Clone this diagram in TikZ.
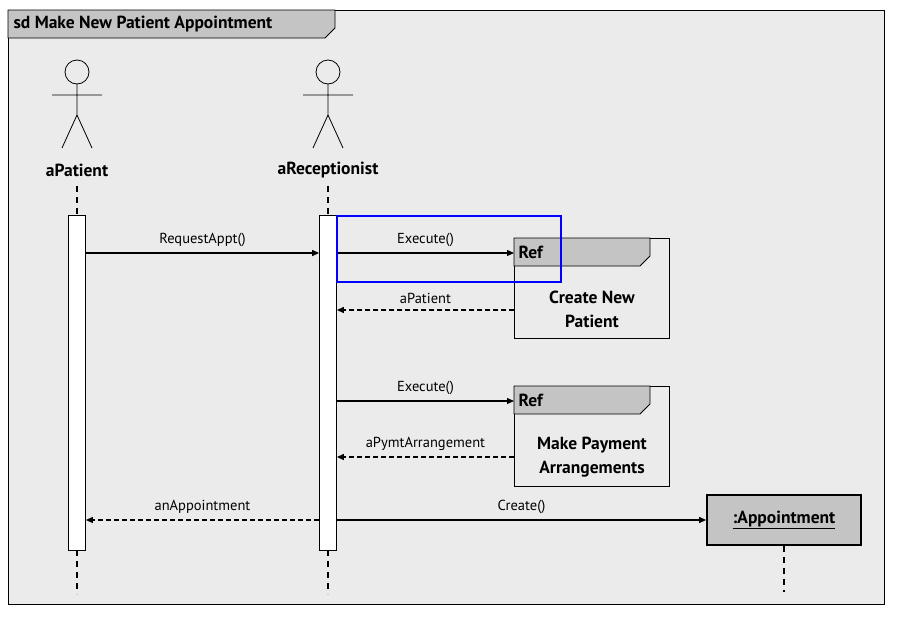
\documentclass[tikz,border=0pt]{standalone}
\usepackage{fontspec}
\setmainfont{PT Sans}
\usetikzlibrary{positioning,calc,arrows.meta}
\tikzset{>={Triangle[length=7pt,width=6pt]}}
\definecolor{framegray}{HTML}{EBEBEB}
\definecolor{tabgray}{HTML}{C4C4C4}
\tikzset{
  msg/.style={->,line width=1.2pt},
  ret/.style={->,line width=1.2pt,dash pattern=on 5pt off 3pt},
  life/.style={line width=1.2pt,dash pattern=on 6pt off 5pt},
  act/.style={draw,fill=white,line width=0.8pt},
  lbl/.style={font=\fontsize{14.5}{16}\selectfont,inner sep=1pt},
  bold/.style={font=\fontsize{17.5}{24}\selectfont\bfseries,align=center},
}
\begin{document}
\begin{tikzpicture}[x=1pt,y=-1pt]
\useasboundingbox (0,0) rectangle (897,622);
% frame
\draw[fill=framegray,line width=0.8pt] (8,10) rectangle (884,604);
\draw[fill=tabgray,line width=0.8pt] (8,10) -- (335,10) -- (335,28) -- (325,38) -- (8,38) -- cycle;
\node[bold,anchor=west] (title) at (10,24) {sd Make New Patient Appointment};
% actors
\foreach \x/\n/\t in {77/pat/aPatient,328/rec/aReceptionist} {
  \draw[line width=0.8pt] (\x,72) circle[radius=12];
  \draw[line width=0.8pt] (\x,84) -- (\x,115) (\x-25,95) -- (\x+25,95)
    (\x-15,148) -- (\x,115) -- (\x+15,148);
  \node[bold] (\n) at (\x,170) {\t};
  \draw[life] (\x,186) -- (\x,215);
  \draw[life] (\x,550) -- (\x,594);
}
\node[act,minimum width=17,minimum height=335,inner sep=0] (actP) at (77,382.5) {};
\node[act,minimum width=17,minimum height=335,inner sep=0] (actR) at (328,382.5) {};
% ref frames
\foreach \y/\n/\t in {238/refA/{Create New\\Patient},386/refB/{Make Payment\\Arrangements}} {
  \draw[fill=framegray,line width=0.8pt] (514,\y) rectangle (669,\y+100);
  \draw[fill=tabgray,line width=0.8pt] (514,\y) -- (650,\y) -- (650,\y+18) -- (640,\y+28) -- (514,\y+28) -- cycle;
  \node[bold,anchor=west] at (515,\y+14) {Ref};
  \node[bold] (\n) at (592,\y+71) {\t};
}
\coordinate (refAin) at (514,253);
\coordinate (refAout) at (514,310);
\coordinate (refBin) at (514,401);
\coordinate (refBout) at (514,457);
% object
\node[draw,fill=tabgray,line width=1.8pt,minimum width=154,minimum height=50,bold] (appt) at (784,520) {\underline{:Appointment}};
\draw[life] (appt.south) -- (784,592);
% messages
\draw[msg] (actP.east |- 0,253) -- node[lbl,above=5pt] {RequestAppt()} (actR.west |- 0,253);
\draw[msg] (actR.east |- 0,253) -- node[lbl,above=5pt] {Execute()} (refAin);
\draw[ret] (refAout) -- node[lbl,above=5pt] {aPatient} (actR.east |- 0,310);
\draw[msg] (actR.east |- 0,401) -- node[lbl,above=5pt] {Execute()} (refBin);
\draw[ret] (refBout) -- node[lbl,above=5pt] {aPymtArrangement} (actR.east |- 0,457);
\draw[msg] (actR.east |- 0,520) -- node[lbl,above=5pt] {Create()} (appt.west);
\draw[ret] (actR.west |- 0,520) -- node[lbl,above=5pt] {anAppointment} (actP.east |- 0,520);
% highlight
\draw[blue,line width=1.4pt] (337,216) rectangle (561,282);
\end{tikzpicture}
\end{document}
